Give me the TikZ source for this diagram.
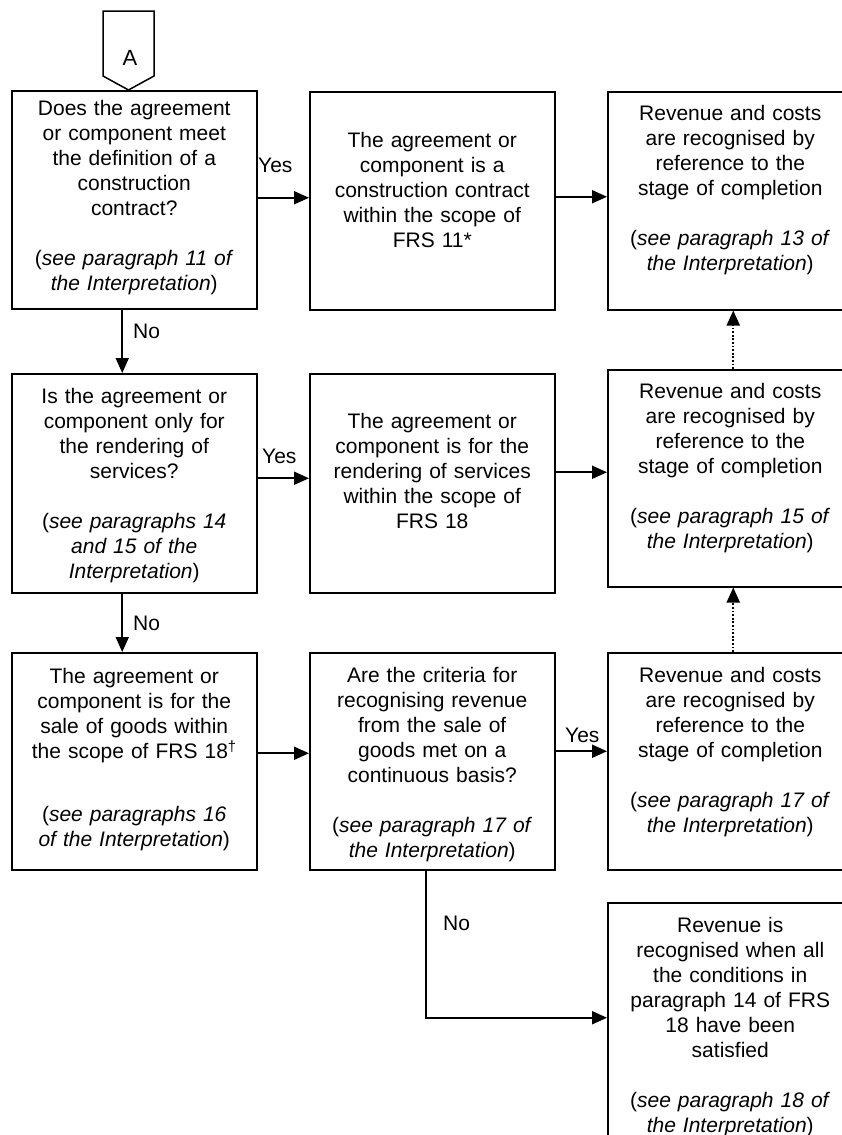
\documentclass[tikz,border=0pt]{standalone}
\usepackage{fontspec}
\setmainfont{Liberation Sans}
\usepackage{tikz}
\usetikzlibrary{arrows.meta, calc}

\tikzset{
  box/.style={draw, line width=1.5pt, anchor=north west, text width=231pt, inner xsep=7pt,
    inner ysep=0pt, align=center, text height=30pt, text depth=187pt,
    font=\fontsize{21}{25}\selectfont},
  arr/.style={-{Triangle[length=15pt, width=13pt]}, line width=1.9pt},
  dotarr/.style={arr, dash pattern=on 1.8pt off 1.8pt},
  lbl/.style={anchor=base west, inner sep=0pt, font=\fontsize{21}{25}\selectfont}
}

\begin{document}
\begin{tikzpicture}[x=1pt, y=-1pt]
  \useasboundingbox (0,0) rectangle (842,1135);
  \clip (0,0) rectangle (842,1135);

  % Off-page connector
  \draw[line width=1.5pt] (103,11) -- (154,11) -- (154,76) -- (128.5,90) -- (103,76) -- cycle;
  \node[font=\fontsize{22}{25}\selectfont, inner sep=0pt] (conA) at (130,58) {A};

  % First row
  \node[box, text height=25pt, text depth=193pt] (q1) at (11,90)
    {Does the agreement\\ or component meet\\ the definition of a\\ construction\\ contract?\\[25pt]
     (\textit{see paragraph 11 of}\\ \textit{the Interpretation})};
  \node[box, text height=56pt, text depth=162pt] (c1) at (309,91)
    {The agreement or\\ component is a\\ construction contract\\ within the scope of\\ FRS 11*};
  \node[box, text height=29pt, text depth=189pt] (r1) at (607,91)
    {Revenue and costs\\ are recognised by\\ reference to the\\ stage of completion\\[25pt]
     (\textit{see paragraph 13 of}\\ \textit{the Interpretation})};

  % Second row
  \node[box, text height=30pt, text depth=189pt] (q2) at (11,373)
    {Is the agreement or\\ component only for\\ the rendering of\\ services?\\[25pt]
     (\textit{see paragraphs 14}\\ \textit{and 15 of the}\\ \textit{Interpretation})};
  \node[box, text height=55pt, text depth=164pt] (s2) at (309,373)
    {The agreement or\\ component is for the\\ rendering of services\\ within the scope of\\ FRS 18};
  \node[box, text height=29pt, text depth=188pt] (r2) at (607,369)
    {Revenue and costs\\ are recognised by\\ reference to the\\ stage of completion\\[25pt]
     (\textit{see paragraph 15 of}\\ \textit{the Interpretation})};

  % Third row
  \node[box, text height=31pt, text depth=186pt] (g1) at (11,652)
    {The agreement or\\ component is for the\\ sale of goods within\\ the scope of FRS 18\textsuperscript{\textdagger}\\[38pt]
     (\textit{see paragraphs 16}\\ \textit{of the Interpretation})};
  \node[box] (g2) at (309,652)
    {Are the criteria for\\ recognising revenue\\ from the sale of\\ goods met on a\\ continuous basis?\\[25pt]
     (\textit{see paragraph 17 of}\\ \textit{the Interpretation})};
  \node[box] (r3) at (607,652)
    {Revenue and costs\\ are recognised by\\ reference to the\\ stage of completion\\[25pt]
     (\textit{see paragraph 17 of}\\ \textit{the Interpretation})};

  % Last box
  \node[box, text depth=230pt] (r4) at (607,902)
    {Revenue is\\ recognised when all\\ the conditions in\\ paragraph 14 of FRS\\ 18 have been\\ satisfied\\[25pt]
     (\textit{see paragraph 18 of}\\ \textit{the Interpretation})};

  % Yes / No labels
  \node[lbl] (yes1) at (258,172) {Yes};
  \node[lbl] (yes2) at (262,463) {Yes};
  \node[lbl] (yes3) at (565,742) {Yes};
  \node[lbl] (no1) at (133,338) {No};
  \node[lbl] (no2) at (133,630) {No};
  \node[lbl] (no3) at (443,930) {No};

  % Connectors
  \draw[arr] ([yshift=2pt]q1.east) -- ([yshift=2pt]q1.east -| c1.west);
  \draw[arr] ([yshift=4pt]c1.east) -- ([yshift=4pt]c1.east -| r1.west);
  \draw[arr] ([xshift=-12pt]q1.south) -- ([xshift=-12pt]q2.north);
  \draw[arr] ([yshift=5pt]q2.east) -- ([yshift=5pt]q2.east -| s2.west);
  \draw[arr] ([yshift=11pt]s2.east) -- ([yshift=11pt]s2.east -| r2.west);
  \draw[arr] ([xshift=-12pt]q2.south) -- ([xshift=-12pt]g1.north);
  \draw[arr] ([yshift=8pt]g1.east) -- ([yshift=8pt]g1.east -| g2.west);
  \draw[arr] ([yshift=10pt]g2.east) -- ([yshift=10pt]g2.east -| r3.west);
  \draw[arr] ([xshift=-6pt]g2.south) |- ([yshift=15pt]r4.west);
  \draw[dotarr] ([xshift=3pt]r2.north) -- ([xshift=3pt]r1.south);
  \draw[dotarr] ([xshift=3pt]r3.north) -- ([xshift=3pt]r2.south);
\end{tikzpicture}
\end{document}
